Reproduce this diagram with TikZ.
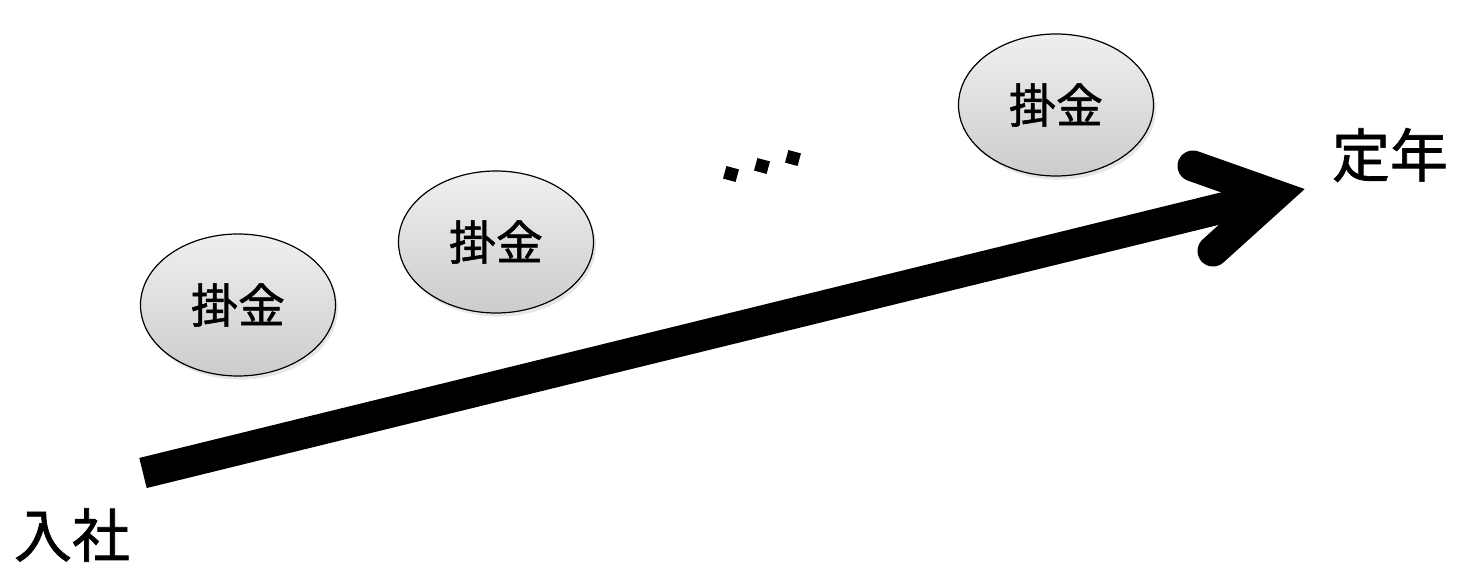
\documentclass[tikz,border=0pt]{standalone}
\usepackage{fontspec}
\newfontfamily\cjk[FakeBold=1.2]{Noto Sans CJK JP}
\usetikzlibrary{shadows,shapes.geometric}
\begin{document}
\begin{tikzpicture}[x=0.5pt,y=-0.5pt,
  coin/.style={ellipse, draw=black, line width=0.6pt, minimum width=97.5pt, minimum height=71pt,
    inner sep=0pt, top color=gray!12, bottom color=gray!40,
    drop shadow={opacity=0.2, shadow xshift=1.2pt, shadow yshift=-1.8pt},
    font=\cjk\fontsize{23.5}{28}\selectfont},
  endlabel/.style={font=\cjk\fontsize{29}{34}\selectfont, inner sep=0pt},
  bigarrow/.style={line width=15.5pt, black},
  dot/.style={fill=black, minimum size=6.5pt, inner sep=0pt, rotate=-15}
]
\useasboundingbox (0,0) rectangle (1457,566);
% arrow
\coordinate (start) at (143,473);
\coordinate (vertex) at (1275,195);
\coordinate (shaftend) at (1255,200);
\coordinate (barbA) at (1193,166);
\coordinate (barbB) at (1213,251);
\draw[bigarrow, line cap=butt] (start) -- (shaftend);
\draw[bigarrow, line cap=round, line join=miter, miter limit=10] (barbA) -- (vertex) -- (barbB);
% labels
\node[endlabel] (nyusha) at (72,535) {入社};
\node[endlabel] (teinen) at (1390,155) {定年};
% coins
\node[coin] (c1) at (238,305) {掛金};
\node[coin] (c2) at (496,242) {掛金};
\node[coin] (c3) at (1056,105) {掛金};
% dots
\node[dot, shape=rectangle] (d1) at (731,174) {};
\node[dot, shape=rectangle] (d2) at (762,166) {};
\node[dot, shape=rectangle] (d3) at (793,158) {};
\end{tikzpicture}
\end{document}
